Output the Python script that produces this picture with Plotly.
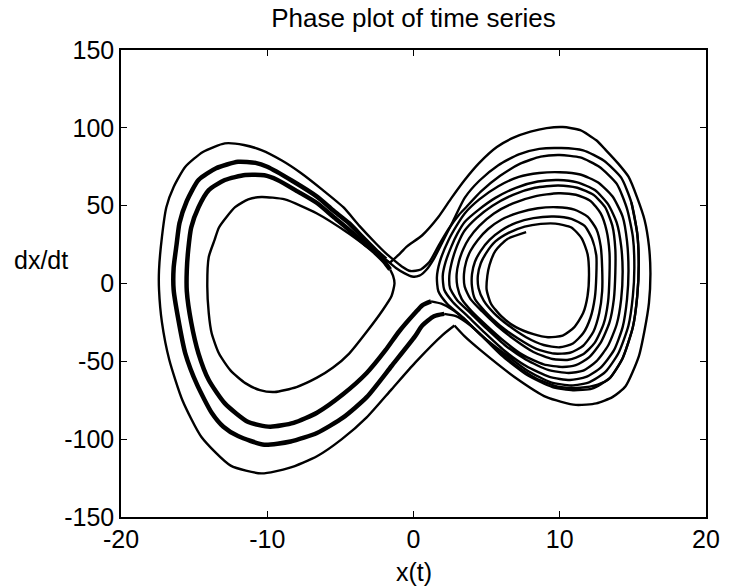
import plotly.graph_objects as go

# ---------------- data (x(t) vs dx/dt) ----------------
x_ticks = [-20, -10, 0, 10, 20]
x_tick_text = ["-20", "-10", "0", "10", "20"]
y_ticks = [-150, -100, -50, 0, 50, 100, 150]
y_tick_text = ["-150", "-100", "-50", "0", "50", "100", "150"]

# start of the trajectory, hidden on top of the right-hand bundle
seg_start = [(14.9, 52), (15.3, 32), (15.4, 12), (15.3, -8), (15.0, -28), (14.3, -48),
             (13.4, -61), (12.6, -65), (11.4, -67), (10.0, -66.5), (8.4, -61), (6.8, -51),
             (5.2, -38), (3.9, -27), (2.9, -21), (2.1, -19.5)]

# crossing to the left wing and the heavy loop A
seg_thick_a = [(2.1, -19.5), (1.4, -21), (0.6, -27), (0.1, -34), (-1.5, -53), (-3.2, -73),
               (-4.8, -86), (-6.6, -96), (-8.4, -101.5), (-10.2, -103.6), (-12.0, -98),
               (-13.0, -92), (-13.8, -83), (-14.8, -65), (-15.6, -45), (-16.1, -22),
               (-16.4, -4), (-16.4, 10), (-16.2, 25), (-16.0, 38.8), (-15.5, 53),
               (-14.7, 66.5), (-13.5, 74), (-12.0, 78.2), (-10.8, 77.5), (-10.0, 75),
               (-8.3, 66), (-6.6, 55.8), (-5.5, 47), (-4.4, 38.7), (-3.5, 30),
               (-2.6, 21.5), (-1.9, 15.5)]

# back to the right wing (loop with top ~87)
seg_right_87 = [(-1.9, 15.5), (-1.2, 10), (-0.6, 6.5), (-0.1, 4.5), (0.4, 5), (0.9, 9),
                (1.4, 16), (2.0, 27), (2.7, 40), (3.5, 55), (4.5, 66), (5.8, 76), (7.2, 83),
                (8.6, 86.5), (10.1, 87), (11.6, 85.5), (13.0, 79), (14.2, 68), (14.9, 52),
                (15.3, 32), (15.4, 12), (15.3, -8), (15.0, -28), (14.3, -48), (13.4, -61),
                (12.2, -67.5), (10.9, -68.6), (9.5, -66.5), (7.8, -59), (6.0, -46),
                (4.6, -33), (3.6, -24), (2.7, -17), (1.9, -13), (1.2, -11.5)]

# crossing to the left wing and the heavy loop B
seg_thick_b = [(1.2, -11.5), (0.6, -14), (0.1, -19), (-1.0, -31), (-1.9, -42.7),
               (-3.2, -57.5), (-4.8, -71), (-6.6, -83), (-8.2, -89.5), (-9.8, -92),
               (-11.3, -89), (-12.9, -77), (-14.0, -62), (-14.7, -45), (-15.2, -25),
               (-15.5, -5), (-15.5, 8.7), (-15.4, 22), (-15.2, 36), (-14.7, 49),
               (-14.0, 60), (-12.9, 66.5), (-11.5, 69.7), (-10.2, 69.5), (-9.3, 66.5),
               (-7.9, 59), (-6.6, 51.7), (-5.5, 43), (-4.4, 34.4), (-3.4, 26),
               (-2.6, 19.6), (-2.0, 14), (-1.6, 9)]

# falls back into the small inner left loop
seg_left_inner = [(-1.6, 9), (-1.4, 5), (-1.3, 0), (-1.5, -8), (-2.1, -17), (-3.2, -31),
                  (-4.4, -45), (-5.5, -54), (-6.6, -60.5), (-8.0, -66.5), (-9.5, -69.7),
                  (-10.5, -68.5), (-11.5, -64), (-12.5, -56), (-13.3, -45), (-13.8, -32),
                  (-14.0, -19), (-14.1, -2), (-14.0, 17), (-13.6, 28), (-13.3, 36),
                  (-12.2, 49), (-11.3, 54), (-10.4, 55.6), (-8.8, 54), (-6.6, 45),
                  (-4.4, 32), (-2.6, 19.6), (-1.9, 15), (-1.6, 13.5)]

# largest right loop (top ~100)
seg_right_outer = [(-1.6, 13.5), (-1.0, 18.5), (-0.5, 23.4), (0.6, 31), (1.7, 42.7),
                   (2.6, 55), (3.5, 66.5), (4.5, 77.5), (5.7, 87.7), (6.8, 93.5),
                   (8.0, 97.5), (9.1, 99.8), (10.2, 100.5), (11.4, 98.5), (12.5, 92),
                   (13.15, 85.7), (14.0, 77), (14.7, 68.6), (15.3, 55), (15.8, 40.8),
                   (16.1, 24), (16.2, 6.7), (16.1, -12.5), (15.8, -30), (15.4, -47),
                   (14.5, -66), (13.6, -73), (12.5, -77), (11.1, -78), (9.1, -73),
                   (6.9, -60), (4.6, -43), (3.5, -34), (2.8, -27)]

# largest left loop (bottom ~-122)
seg_left_outer = [(2.8, -27), (2.0, -33), (0.1, -51), (-1.5, -68), (-3.2, -86),
                  (-4.9, -100), (-6.6, -111), (-8.5, -118.5), (-10.4, -122),
                  (-12.5, -117), (-14.5, -98.6), (-15.8, -75), (-16.7, -49),
                  (-17.2, -25), (-17.4, -4), (-17.4, 8.7), (-17.2, 30), (-16.9, 49),
                  (-16.4, 62), (-15.6, 75), (-14.4, 84.5), (-12.9, 90), (-11.6, 89),
                  (-10.4, 85.7), (-9.0, 79), (-7.7, 71), (-6.2, 60), (-4.8, 49),
                  (-3.7, 37), (-2.6, 26), (-1.9, 19.5), (-1.4, 15.5)]

# final spiral in the right wing, ending near (7.7, 33)
seg_right_spiral = [
    (-1.4, 15.5), (-0.8, 11), (-0.2, 8), (0.5, 9), (1.1, 14), (1.7, 24), (2.4, 35),
    (3.1, 44), (3.6, 49), (4.6, 59), (5.9, 69), (7.3, 77), (8.7, 81.5), (10.0, 82.5),
    (11.4, 81), (12.7, 75), (13.9, 64), (14.6, 48), (15.0, 30), (15.1, 10), (15.0, -8),
    (14.7, -27), (14.0, -45), (13.1, -57), (12.0, -63.5), (10.8, -65.5), (9.4, -63.5),
    (7.8, -56), (6.2, -45), (4.6, -33), (3.4, -22), (2.3, -13), (1.7, -5), (1.6, 4),
    (1.8, 14), (2.4, 28), (3.0, 38), (3.5, 45), (4.5, 54), (5.8, 62.5), (7.2, 68.5),
    (8.6, 71), (10.0, 71.5), (11.4, 70), (12.6, 65), (13.6, 56), (14.3, 43), (14.6, 27),
    (14.7, 8), (14.6, -10), (14.3, -28), (13.7, -43), (12.8, -54), (11.8, -60),
    (10.7, -62), (9.3, -60), (7.7, -53), (6.2, -43), (4.8, -31), (3.7, -21), (2.7, -12),
    (2.1, -4), (2.0, 5),
    (2.2, 14), (2.6, 24), (3.0, 32), (3.5, 39.5), (4.4, 47), (5.6, 55), (7.0, 61.5),
    (8.5, 65.5), (9.9, 66.5), (11.2, 65), (12.4, 60), (13.3, 51), (13.9, 39), (14.2, 24),
    (14.3, 8), (14.2, -10), (13.9, -26), (13.3, -40), (12.5, -50), (11.6, -56),
    (10.6, -57.5), (9.2, -55.5), (7.7, -49), (6.3, -40), (5.0, -29), (3.9, -19),
    (3.0, -11), (2.5, -3), (2.45, 5),
    (2.6, 13), (2.85, 21), (3.15, 28), (3.5, 34), (4.3, 42), (5.4, 50), (6.8, 57),
    (8.3, 61.5), (9.9, 63), (11.2, 61.5), (12.3, 57), (13.1, 49), (13.6, 37), (13.8, 22),
    (13.8, 7), (13.7, -10), (13.4, -25), (12.8, -38), (12.0, -47.5), (11.1, -52.5),
    (10.2, -53.6), (8.9, -52), (7.5, -46), (6.2, -37), (5.0, -27), (4.0, -18), (3.3, -10),
    (3.0, -2), (2.95, 6),
    (3.1, 14), (3.4, 22), (3.8, 29), (4.5, 37), (5.5, 45), (6.8, 51.5), (8.3, 56),
    (9.9, 58), (11.1, 57), (12.1, 53), (12.8, 45), (13.2, 34), (13.4, 20), (13.4, 5),
    (13.3, -12), (13.0, -26), (12.4, -38), (11.6, -45.5), (10.6, -49), (9.5, -48.5),
    (8.2, -44), (6.9, -36), (5.7, -27), (4.7, -18), (3.9, -10), (3.5, -2), (3.45, 6),
    (3.6, 14), (3.9, 21), (4.4, 28), (5.1, 35), (6.0, 41), (7.2, 45.5), (8.5, 48.3),
    (9.8, 49), (11.0, 47.5), (11.9, 43), (12.5, 35), (12.8, 24), (12.9, 10), (12.9, -5),
    (12.7, -19), (12.3, -31), (11.6, -40), (10.7, -44.5), (9.6, -45), (8.4, -42),
    (7.1, -35), (5.9, -27), (4.9, -18), (4.2, -10), (4.0, -2), (4.0, 6),
    (4.2, 14), (4.6, 21), (5.2, 28), (6.0, 34), (7.0, 39), (8.2, 42), (9.6, 43),
    (10.8, 41.5), (11.7, 37), (12.2, 29), (12.5, 18), (12.5, 5), (12.4, -9), (12.1, -22),
    (11.6, -32), (10.9, -38.5), (10.0, -41), (8.9, -39.5), (7.7, -34.5), (6.5, -27),
    (5.5, -19), (4.8, -11), (4.45, -3), (4.4, 5),
    (4.6, 13), (5.0, 20), (5.6, 27), (6.5, 32.5), (7.6, 36.5), (8.7, 38.3), (9.7, 38.5),
    (10.8, 36), (11.5, 29), (11.9, 19), (12.0, 6), (11.9, -8), (11.6, -19), (11.0, -28),
    (10.2, -33.5), (9.2, -34.5), (8.2, -32.5), (7.0, -28), (6.0, -21), (5.3, -13),
    (5.0, -4), (5.05, 5), (5.2, 12), (5.6, 21), (6.4, 28.5), (7.7, 33)]

THIN = 2.4
THICK = 4.5
segments = [
    (seg_start, THIN), (seg_thick_a, THICK), (seg_right_87, THIN), (seg_thick_b, THICK),
    (seg_left_inner, THIN), (seg_right_outer, THIN), (seg_left_outer, THIN),
    (seg_right_spiral, THIN),
]

fig = go.Figure()
for pts, w in segments:
    xs = [p[0] for p in pts]
    ys = [p[1] for p in pts]
    fig.add_trace(go.Scatter(x=xs, y=ys, mode="lines",
                             line=dict(color="black", width=w, shape="spline", smoothing=0.6),
                             hoverinfo="skip", showlegend=False))

FONT = "Liberation Sans, Arial, Helvetica, sans-serif"
FS = 25
axis_common = dict(showgrid=False, zeroline=False, showline=True, linecolor="black",
                   linewidth=1.5, mirror="ticks", ticks="inside", ticklen=6, tickwidth=1.3,
                   tickcolor="black", tickfont=dict(family=FONT, size=FS, color="black"))

fig.update_layout(
    width=732, height=586,
    margin=dict(l=121, r=17, t=50, b=69),
    paper_bgcolor="white", plot_bgcolor="white",
    font=dict(family=FONT, size=FS, color="black"),
    title=dict(text="Phase plot of time series", x=0.5, xref="paper", xanchor="center",
               y=1 - 18 / 586, yref="container", yanchor="middle",
               font=dict(family=FONT, size=26, color="black")),
    xaxis=dict(range=[-20, 20], tickvals=x_ticks, ticktext=x_tick_text,
               ticklabelstandoff=-1, **axis_common),
    yaxis=dict(range=[-150, 150], tickvals=y_ticks, ticktext=y_tick_text,
               ticklabelstandoff=0, **axis_common),
    annotations=[
        dict(text="x(t)", x=0.5, y=-0.118, xref="paper", yref="paper", showarrow=False,
             xanchor="center", yanchor="middle", font=dict(family=FONT, size=FS, color="black")),
        dict(text="dx/dt", x=-0.137, y=0.55, xref="paper", yref="paper", showarrow=False,
             xanchor="center", yanchor="middle", font=dict(family=FONT, size=FS, color="black")),
    ],
)

fig.write_html("out.html")
